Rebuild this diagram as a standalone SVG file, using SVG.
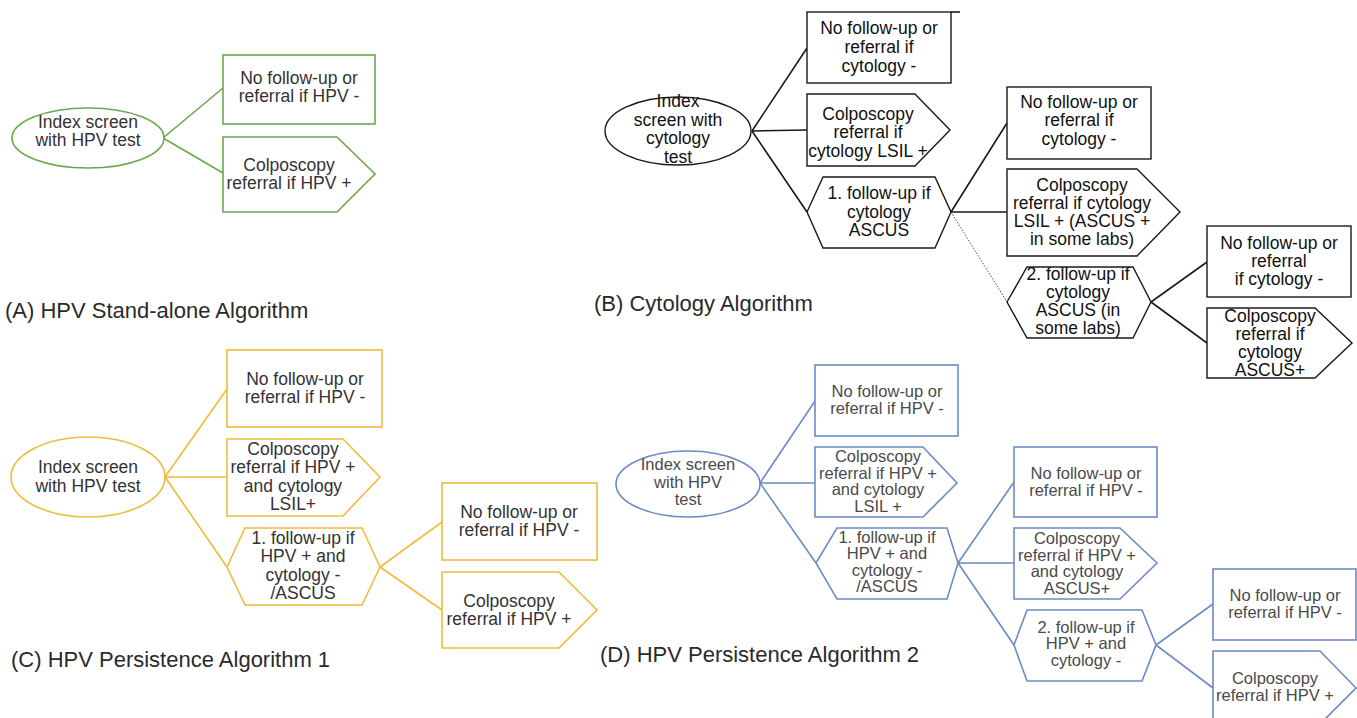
<svg xmlns="http://www.w3.org/2000/svg" width="1357" height="718" viewBox="0 0 1357 718">
<style>
  .n { fill: #ffffff; stroke-width: 1.6; }
  .ga { stroke: #6aa84f; }
  .kb { stroke: #1a1a1a; stroke-width: 1.4; }
  .yc { stroke: #efbc3a; }
  .bd { stroke: #6c8bc6; }
  .c { fill: none; stroke-width: 1.6; }
  .t { font-family: "Liberation Sans", Arial, sans-serif; font-size: 17.5px; fill: #333333; text-anchor: middle; }
  .tk { fill: #111111; }
  .td { font-size: 16.5px; fill: #4a4a4a; }
  .lab { font-family: "Liberation Sans", Arial, sans-serif; fill: #2a2a2a; }
</style>
<rect width="1357" height="718" fill="#ffffff"/>

<!-- Connectors -->
<g id="connectors">
  <path class="c ga" d="M163,138 L223,88 M163,138 L223,173"/>
  <path class="c kb" d="M752,131 L807,48 M752,131 L807,130 M752,131 L807,212"/>
  <path class="c kb" d="M951,212 L1007,123 M951,212 L1007,212"/>
  <path fill="none" stroke="#555555" stroke-width="1" stroke-dasharray="1.5,1.5" d="M951,212 L1007,302"/>
  <path class="c kb" d="M1151,302 L1207,262 M1151,302 L1207,343"/>
  <path class="c yc" d="M165,477 L227,389 M165,477 L227,477 M165,477 L227,567"/>
  <path class="c yc" d="M380,567 L442,522 M380,567 L442,610"/>
  <path class="c bd" d="M760,483 L815,401 M760,483 L815,483 M760,483 L816,563"/>
  <path class="c bd" d="M958,563 L1014,482 M958,563 L1014,563 M958,563 L1014,645"/>
  <path class="c bd" d="M1156,645 L1213,604 M1156,645 L1213,688"/>
</g>

<!-- Panel A -->
<g id="a-index">
  <ellipse class="n ga" cx="88" cy="138" rx="76" ry="30"/>
  <text class="t"><tspan x="88" y="128">Index screen</tspan><tspan x="88" y="146">with HPV test</tspan></text>
</g>
<g id="a-no">
  <rect class="n ga" x="223" y="55" width="152" height="69"/>
  <text class="t"><tspan x="299" y="84">No follow-up or</tspan><tspan x="299" y="102">referral if HPV -</tspan></text>
</g>
<g id="a-colpo">
  <path class="n ga" d="M223,137 L337,137 L375,174 L337,212 L223,212 Z"/>
  <text class="t"><tspan x="289" y="171">Colposcopy</tspan><tspan x="289" y="189">referral if HPV +</tspan></text>
</g>
<text class="lab" x="5" y="318" font-size="22">(A) HPV Stand-alone Algorithm</text>

<!-- Panel B -->
<g id="b-index">
  <ellipse class="n kb" cx="678" cy="131" rx="73" ry="34"/>
  <text class="t tk"><tspan x="678" y="107">Index</tspan><tspan x="678" y="126">screen with</tspan><tspan x="678" y="144">cytology</tspan><tspan x="678" y="163">test</tspan></text>
</g>
<g id="b-no">
  <rect class="n kb" x="807" y="12" width="144" height="71"/>
  <path class="c kb" d="M951,12 L960,12"/>
  <text class="t tk"><tspan x="879" y="34">No follow-up or</tspan><tspan x="879" y="53">referral if</tspan><tspan x="879" y="72">cytology -</tspan></text>
</g>
<g id="b-colpo">
  <path class="n kb" d="M807,94 L915,94 L950,130 L915,166 L807,166 Z"/>
  <text class="t tk"><tspan x="868" y="120">Colposcopy</tspan><tspan x="868" y="138">referral if</tspan><tspan x="868" y="157">cytology LSIL +</tspan></text>
</g>
<g id="b-follow1">
  <path class="n kb" d="M807,212 L823,177 L935,177 L951,212 L935,248 L823,248 Z"/>
  <text class="t tk"><tspan x="879" y="199">1. follow-up if</tspan><tspan x="879" y="218">cytology</tspan><tspan x="879" y="236">ASCUS</tspan></text>
</g>
<g id="b-no2">
  <rect class="n kb" x="1007" y="87" width="144" height="72"/>
  <text class="t tk"><tspan x="1079" y="108">No follow-up or</tspan><tspan x="1079" y="126">referral if</tspan><tspan x="1079" y="145">cytology -</tspan></text>
</g>
<g id="b-colpo2">
  <path class="n kb" d="M1007,169 L1137,169 L1180,212 L1137,256 L1007,256 Z"/>
  <text class="t tk"><tspan x="1082" y="191">Colposcopy</tspan><tspan x="1082" y="209">referral if cytology</tspan><tspan x="1082" y="227">LSIL + (ASCUS +</tspan><tspan x="1082" y="245">in some labs)</tspan></text>
</g>
<g id="b-follow2">
  <path class="n kb" d="M1007,302 L1027,267 L1133,267 L1151,302 L1133,338 L1027,338 Z"/>
  <text class="t tk"><tspan x="1078" y="280">2. follow-up if</tspan><tspan x="1078" y="298">cytology</tspan><tspan x="1078" y="316">ASCUS (in</tspan><tspan x="1078" y="334">some labs)</tspan></text>
</g>
<g id="b-no3">
  <rect class="n kb" x="1207" y="226" width="144" height="71"/>
  <text class="t tk"><tspan x="1279" y="249">No follow-up or</tspan><tspan x="1279" y="267">referral</tspan><tspan x="1279" y="285">if cytology -</tspan></text>
</g>
<g id="b-colpo3">
  <path class="n kb" d="M1207,308 L1315,308 L1352,343 L1315,378 L1207,378 Z"/>
  <text class="t tk"><tspan x="1270" y="322">Colposcopy</tspan><tspan x="1270" y="340">referral if</tspan><tspan x="1270" y="358">cytology</tspan><tspan x="1270" y="376">ASCUS+</tspan></text>
</g>
<text class="lab" x="594" y="311" font-size="22">(B) Cytology Algorithm</text>

<!-- Panel C -->
<g id="c-index">
  <ellipse class="n yc" cx="88" cy="477" rx="77" ry="40"/>
  <text class="t"><tspan x="88" y="473">Index screen</tspan><tspan x="88" y="492">with HPV test</tspan></text>
</g>
<g id="c-no">
  <rect class="n yc" x="227" y="350" width="155" height="77"/>
  <text class="t"><tspan x="305" y="385">No follow-up or</tspan><tspan x="305" y="403">referral if HPV -</tspan></text>
</g>
<g id="c-colpo">
  <path class="n yc" d="M227,439 L343,439 L380,477 L343,516 L227,516 Z"/>
  <text class="t"><tspan x="293" y="455">Colposcopy</tspan><tspan x="293" y="473">referral if HPV +</tspan><tspan x="293" y="492">and cytology</tspan><tspan x="293" y="510">LSIL+</tspan></text>
</g>
<g id="c-follow1">
  <path class="n yc" d="M227,567 L245,528 L362,528 L380,567 L362,605 L245,605 Z"/>
  <text class="t"><tspan x="303" y="544">1. follow-up if</tspan><tspan x="303" y="562">HPV + and</tspan><tspan x="303" y="581">cytology -</tspan><tspan x="303" y="599">/ASCUS</tspan></text>
</g>
<g id="c-no2">
  <rect class="n yc" x="442" y="483" width="155" height="77"/>
  <text class="t"><tspan x="519" y="518">No follow-up or</tspan><tspan x="519" y="536">referral if HPV -</tspan></text>
</g>
<g id="c-colpo2">
  <path class="n yc" d="M442,572 L559,572 L597,610 L559,648 L442,648 Z"/>
  <text class="t"><tspan x="509" y="607">Colposcopy</tspan><tspan x="509" y="625">referral if HPV +</tspan></text>
</g>
<text class="lab" x="11" y="667" font-size="22">(C) HPV Persistence Algorithm 1</text>

<!-- Panel D -->
<g id="d-index">
  <ellipse class="n bd" cx="688" cy="484" rx="72" ry="33"/>
  <text class="t td"><tspan x="688" y="470">Index screen</tspan><tspan x="688" y="488">with HPV</tspan><tspan x="688" y="505">test</tspan></text>
</g>
<g id="d-no">
  <rect class="n bd" x="815" y="365" width="143" height="71"/>
  <text class="t td"><tspan x="887" y="397">No follow-up or</tspan><tspan x="887" y="414">referral if HPV -</tspan></text>
</g>
<g id="d-colpo">
  <path class="n bd" d="M815,447 L923,447 L957,483 L923,517 L815,517 Z"/>
  <text class="t td"><tspan x="878" y="462">Colposcopy</tspan><tspan x="878" y="479">referral if HPV +</tspan><tspan x="878" y="495">and cytology</tspan><tspan x="878" y="512">LSIL +</tspan></text>
</g>
<g id="d-follow1">
  <path class="n bd" d="M816,563 L837,528 L947,528 L958,563 L947,599 L837,599 Z"/>
  <text class="t td"><tspan x="887" y="543">1. follow-up if</tspan><tspan x="887" y="559">HPV + and</tspan><tspan x="887" y="576">cytology -</tspan><tspan x="887" y="592">/ASCUS</tspan></text>
</g>
<g id="d-no2">
  <rect class="n bd" x="1014" y="447" width="143" height="70"/>
  <text class="t td"><tspan x="1086" y="479">No follow-up or</tspan><tspan x="1086" y="496">referral if HPV -</tspan></text>
</g>
<g id="d-colpo2">
  <path class="n bd" d="M1014,528 L1120,528 L1157,563 L1120,599 L1014,599 Z"/>
  <text class="t td"><tspan x="1077" y="544">Colposcopy</tspan><tspan x="1077" y="561">referral if HPV +</tspan><tspan x="1077" y="577">and cytology</tspan><tspan x="1077" y="594">ASCUS+</tspan></text>
</g>
<g id="d-follow2">
  <path class="n bd" d="M1014,645 L1027,610 L1142,610 L1156,645 L1142,681 L1027,681 Z"/>
  <text class="t td"><tspan x="1086" y="633">2. follow-up if</tspan><tspan x="1086" y="649">HPV + and</tspan><tspan x="1086" y="666">cytology -</tspan></text>
</g>
<g id="d-no3">
  <rect class="n bd" x="1213" y="569" width="143" height="71"/>
  <text class="t td"><tspan x="1285" y="601">No follow-up or</tspan><tspan x="1285" y="618">referral if HPV -</tspan></text>
</g>
<g id="d-colpo3">
  <path class="n bd" d="M1213,651 L1320,651 L1356,688 L1320,724 L1213,724 Z"/>
  <text class="t td"><tspan x="1275" y="684">Colposcopy</tspan><tspan x="1275" y="701">referral if HPV +</tspan></text>
</g>
<text class="lab" x="600" y="662" font-size="22">(D) HPV Persistence Algorithm 2</text>
</svg>
